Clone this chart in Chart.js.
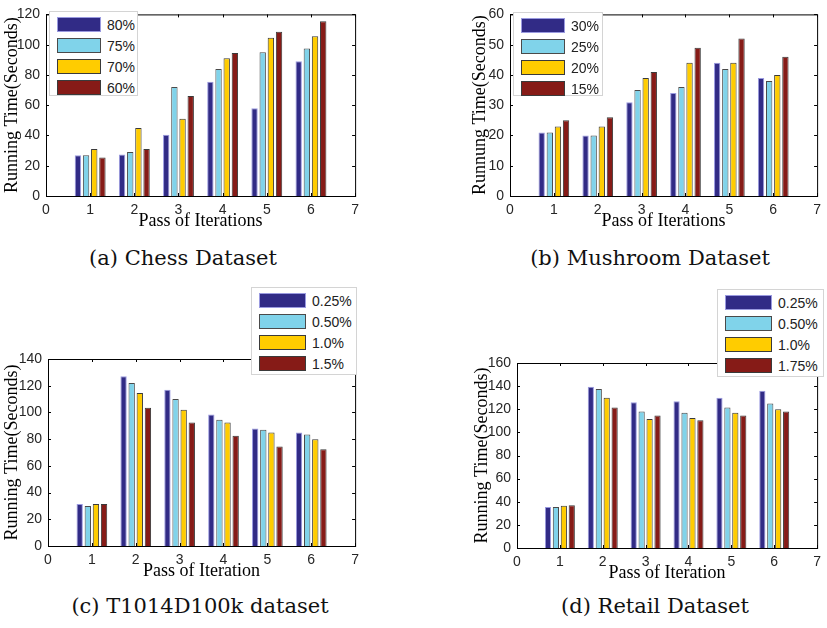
<!DOCTYPE html>
<html>
<head>
<meta charset="utf-8">
<script src="https://cdn.jsdelivr.net/npm/chart.js@4.4.1/dist/chart.umd.min.js"></script>
<style>
  body { margin: 0; background: #fff; width: 827px; height: 628px; position: relative; overflow: hidden; }
  .panel { position: absolute; }
  .legend { position: absolute; background: #fff; border: 1px solid #d4d4d4; box-sizing: border-box;
            padding: 5px 0 0 7px; font-family: "Liberation Sans", Arial, sans-serif; font-size: 14px; color: #222; }
  .legend .row { display: flex; align-items: center; height: 15px; margin-bottom: 6px; }
  .legend .sw { width: 42px; height: 13px; margin-right: 6px; }
  .caption { position: absolute; width: 340px; text-align: center; font-family: "DejaVu Serif", serif;
             font-size: 21px; line-height: 24px; color: #111; }
</style>
</head>
<body>
<script>
// x positions (pass of iteration)
const passes = [1, 2, 3, 4, 5, 6];

// (a) Chess
const chessSeries = ["80%", "75%", "70%", "60%"];
const chess80 = [27, 27.5, 40.5, 75.5, 58, 89];
const chess75 = [27, 29, 72, 84, 95, 97.5];
const chess70 = [31, 45, 51, 91, 104.5, 105.5];
const chess60 = [25.5, 31, 66, 94.5, 108.5, 115.5];

// (b) Mushroom
const mushSeries = ["30%", "25%", "20%", "15%"];
const mush30 = [21, 20, 31, 34, 44, 39];
const mush25 = [21, 20, 35, 36, 42, 38];
const mush20 = [23, 23, 39, 44, 44, 40];
const mush15 = [25, 26, 41, 49, 52, 46];

// (c) T1014D100k
const tSeries = ["0.25%", "0.50%", "1.0%", "1.5%"];
const t025 = [31.5, 127, 117, 98.5, 88, 85];
const t050 = [30, 122, 110, 94.5, 87, 83.5];
const t100 = [31.5, 114.5, 102, 92.5, 85, 80];
const t150 = [31.5, 103.5, 92.5, 82.5, 74.5, 72.5];

// (d) Retail
const retailSeries = ["0.25%", "0.50%", "1.0%", "1.75%"];
const r025 = [35.5, 139.5, 126, 127, 130, 136];
const r050 = [35.5, 137.5, 118, 117, 121.5, 125];
const r100 = [36.5, 130, 111.5, 112.5, 117, 120];
const r175 = [37, 121.5, 114.5, 110.5, 114.5, 118];

const barColors = ["#312b86", "#80d3ea", "#ffcc00", "#861b17"];
const edgeColors = ["#9a9ae0", "#4a4a4a", "#3a3a3a", "#3a3a3a"];

const tickFont = { family: "Liberation Sans", size: 14 };
const titleFont = { family: "Liberation Serif", size: 18 };

// axis box with inward tick marks, matlab style
const boxPlugin = {
  id: "box",
  afterDraw(chart) {
    const { ctx, chartArea: a, scales: { x, y } } = chart;
    ctx.save();
    ctx.strokeStyle = "#000";
    ctx.lineWidth = 1;
    ctx.strokeRect(a.left + 0.5, a.top + 0.5, a.right - a.left, a.bottom - a.top);
    ctx.beginPath();
    x.ticks.forEach(t => {
      const px = Math.round(x.getPixelForValue(t.value)) + 0.5;
      ctx.moveTo(px, a.bottom); ctx.lineTo(px, a.bottom - 3);
      ctx.moveTo(px, a.top); ctx.lineTo(px, a.top + 3);
    });
    y.ticks.forEach(t => {
      const py = Math.round(y.getPixelForValue(t.value)) + 0.5;
      ctx.moveTo(a.left, py); ctx.lineTo(a.left + 3, py);
      ctx.moveTo(a.right, py); ctx.lineTo(a.right - 3, py);
    });
    ctx.stroke();
    ctx.restore();
  }
};

function makePanel(p) {
  const div = document.createElement("div");
  div.className = "panel";
  div.style.left = p.left + "px";
  div.style.top = p.top + "px";
  const canvas = document.createElement("canvas");
  canvas.width = p.width;
  canvas.height = p.height;
  div.appendChild(canvas);
  document.body.appendChild(div);

  const datasets = p.series.map((name, i) => ({
    label: name,
    data: passes.map((x, j) => ({ x: x, y: p.values[i][j] })),
    backgroundColor: barColors[i],
    borderColor: edgeColors[i],
    borderWidth: 1
  }));

  new Chart(canvas.getContext("2d"), {
    type: "bar",
    data: { datasets: datasets },
    options: {
      responsive: false,
      animation: false,
      layout: { padding: { top: p.padTop, right: p.padRight, left: 0, bottom: 0 } },
      plugins: { legend: { display: false }, tooltip: { enabled: false } },
      datasets: { bar: { categoryPercentage: 0.74, barPercentage: 0.78 } },
      scales: {
        x: {
          type: "linear", min: 0, max: 7, offset: false,
          grid: { display: false, drawTicks: false, offset: false }, border: { display: false },
          ticks: { stepSize: 1, padding: 6, font: tickFont, color: "#262626", maxRotation: 0 },
          title: { display: true, text: p.xTitle, font: titleFont, color: "#000", padding: { top: 0, bottom: 3 } },
          afterFit: s => { s.height = 39; }
        },
        y: {
          min: 0, max: p.yMax,
          grid: { display: false, drawTicks: false }, border: { display: false },
          ticks: { stepSize: p.yStep, padding: 6, font: tickFont, color: "#262626" },
          title: { display: true, text: p.yTitle, font: titleFont, color: "#000", padding: { top: 1, bottom: 0 } },
          afterFit: s => { s.width = p.yWidth; }
        }
      }
    },
    plugins: [boxPlugin]
  });

  // legend box
  const lg = document.createElement("div");
  lg.className = "legend";
  lg.style.left = p.legend[0] + "px";
  lg.style.top = p.legend[1] + "px";
  lg.style.width = p.legend[2] + "px";
  lg.style.height = p.legend[3] + "px";
  p.series.forEach((name, i) => {
    const row = document.createElement("div");
    row.className = "row";
    const sw = document.createElement("div");
    sw.className = "sw";
    sw.style.width = p.swatch + "px";
    sw.style.background = barColors[i];
    sw.style.border = "1px solid " + edgeColors[i];
    const lab = document.createElement("span");
    lab.textContent = name;
    row.appendChild(sw);
    row.appendChild(lab);
    lg.appendChild(row);
  });
  document.body.appendChild(lg);

  const cap = document.createElement("div");
  cap.className = "caption";
  cap.textContent = p.caption;
  cap.style.left = (p.capX - 170) + "px";
  cap.style.top = p.capY + "px";
  document.body.appendChild(cap);
}

makePanel({
  left: 0, top: 0, width: 365, height: 235, padTop: 10, padRight: 6, yWidth: 46,
  series: chessSeries, values: [chess80, chess75, chess70, chess60],
  yMax: 120, yStep: 20, xTitle: "Pass of Iterations", yTitle: "Running Time(Seconds)",
  legend: [49, 11, 89, 85], swatch: 42, caption: "(a) Chess Dataset", capX: 183, capY: 246
});

makePanel({
  left: 468, top: 0, width: 359, height: 235, padTop: 10, padRight: 4, yWidth: 42,
  series: mushSeries, values: [mush30, mush25, mush20, mush15],
  yMax: 60, yStep: 10, xTitle: "Pass of Iterations", yTitle: "Runnung Time(Seconds)",
  legend: [513, 12, 90, 84], swatch: 42, caption: "(b) Mushroom Dataset", capX: 650, capY: 246
});

makePanel({
  left: 0, top: 324, width: 365, height: 261, padTop: 35, padRight: 8, yWidth: 48,
  series: tSeries, values: [t025, t050, t100, t150],
  yMax: 140, yStep: 20, xTitle: "Pass of Iteration", yTitle: "Running Time(Seconds)",
  legend: [251, 287, 106, 88], swatch: 45, caption: "(c) T1014D100k dataset", capX: 200, capY: 594
});

makePanel({
  left: 470, top: 324, width: 357, height: 263, padTop: 39, padRight: 3, yWidth: 47,
  series: retailSeries, values: [r025, r050, r100, r175],
  yMax: 160, yStep: 20, xTitle: "Pass of Iteration", yTitle: "Running Time(Seconds)",
  legend: [717, 289, 107, 88], swatch: 45, caption: "(d) Retail Dataset", capX: 655, capY: 594
});
</script>
</body>
</html>
